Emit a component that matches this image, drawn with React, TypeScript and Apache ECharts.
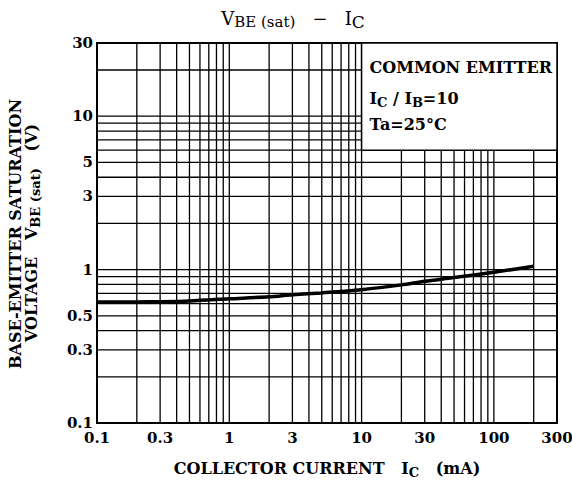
import React, { useEffect, useRef } from "react";
import * as echarts from "echarts";

// Curve (log-log)
const collectorCurrentMA = [0.1, 0.2, 0.3, 0.5, 1, 2, 3, 5, 10, 20, 30, 50, 100, 200];
const vbeSatV = [0.615, 0.616, 0.618, 0.625, 0.645, 0.665, 0.685, 0.705, 0.74, 0.795, 0.84, 0.887, 0.962, 1.05];

// Tick labels
const xTickValues = [0.1, 0.3, 1, 3, 10, 30, 100, 300];
const yTickValues = [0.1, 0.3, 0.5, 1, 3, 5, 10, 30];

// Log grid lines
const xGridValues = [0.2, 0.3, 0.4, 0.5, 0.6, 0.7, 0.8, 0.9, 1, 2, 3, 4, 5, 6, 7, 8, 9, 10, 20, 30, 40, 50, 60, 70, 80, 90, 100, 200];
const yGridValues = [0.2, 0.3, 0.4, 0.5, 0.6, 0.7, 0.8, 0.9, 1, 2, 3, 4, 5, 6, 7, 8, 9, 10, 20];

// Condition box (data space corners)
const noteBoxX = [10, 300];
const noteBoxY = [6, 30];

const FONT = "'DejaVu Serif', serif";

type Part = { t: string; font: string; dy: number };

export default function App() {
  const ref = useRef<HTMLDivElement>(null);
  useEffect(() => {
    document.body.style.margin = "0";
    const chart = echarts.init(ref.current!, null, { renderer: "svg" });
    const X_MIN = 0.1, X_MAX = 300, Y_MIN = 0.1, Y_MAX = 30;
    const gridStroke = { stroke: "#000", lineWidth: 1.3 };
    const labelFont = `bold 15px ${FONT}`;
    const MB = `bold 16px ${FONT}`;
    const SB = `bold 13px ${FONT}`;

    const ctx = document.createElement("canvas").getContext("2d")!;
    const measure = (t: string, font: string) => {
      ctx.font = font;
      return ctx.measureText(t).width;
    };
    // a line of text made of pieces (for subscripts); x,y = anchor, align center or left
    const textLine = (parts: Part[], x: number, y: number, align: "center" | "left", rotation = 0) => {
      const widths = parts.map((p) => measure(p.t, p.font));
      const total = widths.reduce((a, b) => a + b, 0);
      let cur = align === "center" ? -total / 2 : 0;
      const children = parts.map((p, i) => {
        const el = {
          type: "text",
          x: cur,
          y: p.dy,
          style: { text: p.t, font: p.font, fill: "#000", align: "left", verticalAlign: "middle" },
        };
        cur += widths[i];
        return el;
      });
      return { type: "group", x, y, rotation, children };
    };

    chart.setOption({
      animation: false,
      backgroundColor: "#fff",
      grid: { left: 97, top: 43, width: 460, height: 380, show: true, borderColor: "#000", borderWidth: 2, backgroundColor: "transparent" },
      xAxis: {
        type: "log", logBase: 10, min: X_MIN, max: X_MAX,
        axisLine: { show: false }, axisTick: { show: false }, axisLabel: { show: false }, splitLine: { show: false },
      },
      yAxis: {
        type: "log", logBase: 10, min: Y_MIN, max: Y_MAX,
        axisLine: { show: false }, axisTick: { show: false }, axisLabel: { show: false }, splitLine: { show: false },
      },
      series: [
        {
          type: "custom", z: 1, silent: true, clip: false,
          data: xGridValues.map((v) => [v, 1]),
          renderItem: (params: any, api: any) => {
            const v = xGridValues[params.dataIndex];
            const a = api.coord([v, Y_MIN]);
            const b = api.coord([v, Y_MAX]);
            return { type: "line", shape: { x1: a[0], y1: a[1], x2: b[0], y2: b[1] }, style: gridStroke };
          },
        },
        {
          type: "custom", z: 1, silent: true, clip: false,
          data: yGridValues.map((v) => [1, v]),
          renderItem: (params: any, api: any) => {
            const v = yGridValues[params.dataIndex];
            const a = api.coord([X_MIN, v]);
            const b = api.coord([X_MAX, v]);
            return { type: "line", shape: { x1: a[0], y1: a[1], x2: b[0], y2: b[1] }, style: gridStroke };
          },
        },
        {
          type: "line", z: 3, silent: true,
          data: collectorCurrentMA.map((x, i) => [x, vbeSatV[i]]),
          showSymbol: false, symbol: "none", smooth: 0.3,
          lineStyle: { color: "#000", width: 3.5 },
        },
        {
          type: "custom", z: 5, silent: true, clip: false,
          data: [[noteBoxX[0], noteBoxY[1]]],
          renderItem: (_p: any, api: any) => {
            const p1 = api.coord([noteBoxX[0], noteBoxY[1]]);
            const p2 = api.coord([noteBoxX[1], noteBoxY[0]]);
            const left = p1[0] + 8;
            const top = p1[1];
            return {
              type: "group",
              children: [
                { type: "rect", shape: { x: p1[0], y: p1[1], width: p2[0] - p1[0], height: p2[1] - p1[1] }, style: { fill: "#fff", stroke: "#000", lineWidth: 1.5 } },
                { type: "text", x: left, y: top + 24, style: { text: "COMMON EMITTER", font: MB, fill: "#000", align: "left", verticalAlign: "middle" } },
                textLine(
                  [
                    { t: "I", font: MB, dy: 0 },
                    { t: "C", font: SB, dy: 4 },
                    { t: " / I", font: MB, dy: 0 },
                    { t: "B", font: SB, dy: 4 },
                    { t: "=10", font: MB, dy: 0 },
                  ],
                  left, top + 55, "left"
                ),
                { type: "text", x: left, y: top + 81, style: { text: "Ta=25°C", font: MB, fill: "#000", align: "left", verticalAlign: "middle" } },
              ],
            };
          },
        },
        {
          type: "custom", z: 6, silent: true, clip: false,
          data: xTickValues.map((v) => [v, Y_MIN]),
          renderItem: (params: any, api: any) => {
            const v = xTickValues[params.dataIndex];
            const p = api.coord([v, Y_MIN]);
            return { type: "text", x: p[0], y: p[1] + 15, style: { text: String(v), font: labelFont, fill: "#000", align: "center", verticalAlign: "middle" } };
          },
        },
        {
          type: "custom", z: 6, silent: true, clip: false,
          data: yTickValues.map((v) => [X_MIN, v]),
          renderItem: (params: any, api: any) => {
            const v = yTickValues[params.dataIndex];
            const p = api.coord([X_MIN, v]);
            return { type: "text", x: p[0] - 4, y: p[1], style: { text: String(v), font: labelFont, fill: "#000", align: "right", verticalAlign: "middle" } };
          },
        },
      ],
      graphic: [
        textLine(
          [
            { t: "V", font: `18px ${FONT}`, dy: 0 },
            { t: "BE (sat)", font: `15px ${FONT}`, dy: 3.5 },
            { t: "   −   I", font: `18px ${FONT}`, dy: 0 },
            { t: "C", font: `17px ${FONT}`, dy: 3.5 },
          ],
          293, 18.5, "center"
        ),
        textLine(
          [
            { t: "COLLECTOR CURRENT   I", font: MB, dy: 0 },
            { t: "C", font: SB, dy: 4 },
            { t: "   (mA)", font: MB, dy: 0 },
          ],
          327, 468, "center"
        ),
        textLine([{ t: "BASE-EMITTER SATURATION", font: MB, dy: 0 }], 15, 234, "center", Math.PI / 2),
        textLine(
          [
            { t: "VOLTAGE   V", font: MB, dy: 0 },
            { t: "BE (sat)", font: SB, dy: 4 },
            { t: "   (V)", font: MB, dy: 0 },
          ],
          31, 233, "center", Math.PI / 2
        ),
      ],
    });
    return () => chart.dispose();
  }, []);
  return <div ref={ref} style={{ width: 572, height: 486 }} />;
}
